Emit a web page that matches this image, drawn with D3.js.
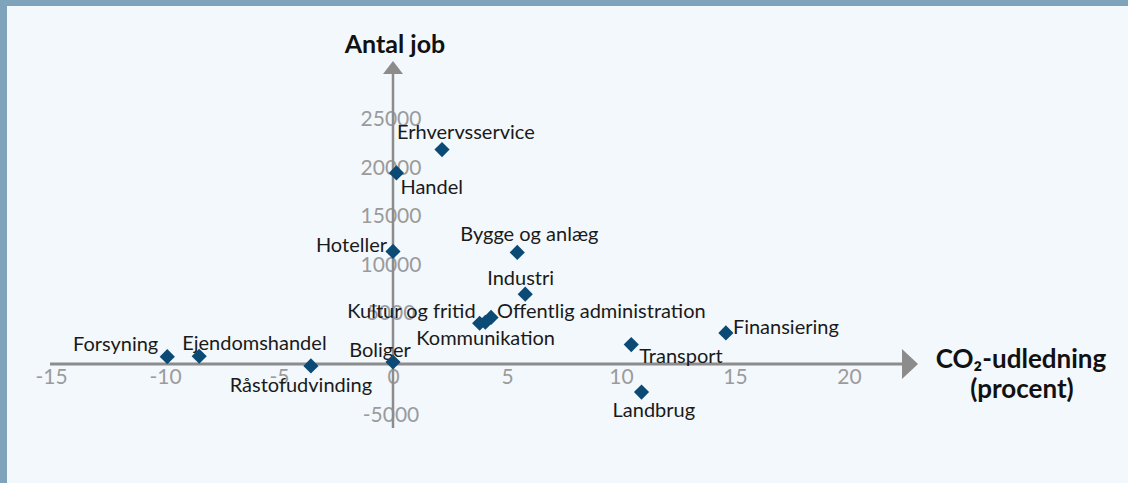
<!DOCTYPE html>
<html>
<head>
<meta charset="utf-8">
<script src="https://cdn.jsdelivr.net/npm/d3@7"></script>
<style>
  html, body { margin: 0; padding: 0; background: #f3f8fc; }
  svg { display: block; font-family: Lato, "Open Sans", sans-serif; }
</style>
</head>
<body>
<div id="chart"></div>
<script>
// Branches: change in CO2 emissions (percent) vs. change in number of jobs
var sectors = ["Forsyning", "Ejendomshandel", "Råstofudvinding", "Boliger", "Hoteller",
  "Handel", "Erhvervsservice", "Bygge og anlæg", "Industri", "Kultur og fritid",
  "Kommunikation", "Offentlig administration", "Transport", "Landbrug", "Finansiering"];
var co2 = [-9.9, -8.5, -3.6, 0, 0, 0.15, 2.15, 5.45, 5.8, 3.8, 4.05, 4.3, 10.45, 10.9, 14.6];
var jobs = [650, 700, -300, 100, 11500, 19600, 22000, 11400, 7100, 4100, 4200, 4700, 1900, -3000, 3100];

var xTicks = [-15, -10, -5, 0, 5, 10, 15, 20];
var yTicks = [-5000, 5000, 10000, 15000, 20000, 25000];

// label placement: anchor, dx, dy (relative to the point)
var labelPos = {
  "Forsyning": ["end", -9, -6],
  "Ejendomshandel": ["start", -17, -6],
  "Råstofudvinding": ["middle", -10, 26],
  "Boliger": ["middle", -13, -5],
  "Hoteller": ["end", -6, 1],
  "Handel": ["start", 4, 21],
  "Erhvervsservice": ["start", -45, -11],
  "Bygge og anlæg": ["start", -57, -11],
  "Industri": ["start", -38, -9],
  "Kultur og fritid": ["end", -4, -5],
  "Kommunikation": ["start", -69, 23],
  "Offentlig administration": ["start", 6, 1],
  "Transport": ["start", 8, 18],
  "Landbrug": ["start", -29, 25],
  "Finansiering": ["start", 7, 1]
};

var data = sectors.map(function(s, i) {
  return { name: s, co2: co2[i], jobs: jobs[i] };
});

var svgWidth = 1128;
var svgHeight = 483;

var svg = d3.select("#chart")
  .append("svg")
  .attr("width", svgWidth)
  .attr("height", svgHeight);

// frame: top bar + left border
svg.append("rect").attr("x", 0).attr("y", 0).attr("width", svgWidth).attr("height", 6).attr("fill", "#7fa3bb");
svg.append("rect").attr("x", 0).attr("y", 0).attr("width", 7).attr("height", svgHeight).attr("fill", "#7fa3bb");

// scales (origin placed where the axes cross)
var xScale = d3.scaleLinear().domain([-15, 20]).range([51, 849]);
var yScale = d3.scaleLinear().domain([0, 25000]).range([363, 120.5]);

var x0 = xScale(0), y0 = yScale(0);
var axisColor = "#8c8c8c";
var tickColor = "#9b9b9b";
var plainNum = d => String(d);

// x tick labels
var xAxis = d3.axisBottom(xScale).tickValues(xTicks).tickSize(0).tickFormat(plainNum);
var gx = svg.append("g")
  .attr("transform", `translate(0, ${y0})`)
  .call(xAxis);
gx.select(".domain").remove();
gx.selectAll("text")
  .attr("y", 0)
  .attr("dy", "21px")
  .attr("fill", tickColor)
  .style("font-size", "21px")
  .style("font-family", "Lato, sans-serif");

// y tick labels, centred on the axis line
var yAxis = d3.axisLeft(yScale).tickValues(yTicks).tickSize(0).tickFormat(plainNum);
var gy = svg.append("g")
  .attr("transform", `translate(${x0 - 2}, 0)`)
  .call(yAxis);
gy.select(".domain").remove();
gy.selectAll("text")
  .attr("x", 0)
  .attr("dy", "5px")
  .attr("text-anchor", "middle")
  .attr("fill", tickColor)
  .style("font-size", "21px")
  .style("font-family", "Lato, sans-serif");
gy.selectAll(".tick").filter(function(d) { return d < 0; }).select("text").attr("dy", "10px");

// axis lines with arrows
svg.append("line")
  .attr("x1", 50).attr("x2", 903)
  .attr("y1", y0 + 1).attr("y2", y0 + 1)
  .attr("stroke", axisColor).attr("stroke-width", 3);
svg.append("path")
  .attr("d", `M902,${y0 - 14} L918,${y0 + 1} L902,${y0 + 16} Z`)
  .attr("fill", axisColor);

svg.append("line")
  .attr("x1", x0).attr("x2", x0)
  .attr("y1", yScale(-6700)).attr("y2", 73)
  .attr("stroke", axisColor).attr("stroke-width", 2.5);
svg.append("path")
  .attr("d", `M${x0 - 10},74 L${x0},61 L${x0 + 10},74 Z`)
  .attr("fill", axisColor);

// axis titles
svg.append("text")
  .attr("x", 395).attr("y", 53)
  .attr("text-anchor", "middle")
  .attr("fill", "#111")
  .style("font-size", "25px")
  .style("font-weight", "bold")
  .text("Antal job");

var xTitle = svg.append("text")
  .attr("text-anchor", "middle")
  .attr("fill", "#111")
  .style("font-size", "26px")
  .style("font-weight", "bold");
xTitle.append("tspan").attr("x", 1021).attr("y", 368).text("CO₂-udledning");
xTitle.append("tspan").attr("x", 1022).attr("y", 398).text("(procent)");

// point labels
svg.append("g")
  .selectAll("text")
  .data(data)
  .enter()
  .append("text")
  .attr("x", d => xScale(d.co2) + labelPos[d.name][1])
  .attr("y", d => yScale(d.jobs) + labelPos[d.name][2])
  .attr("text-anchor", d => labelPos[d.name][0])
  .attr("fill", "#1a1a1a")
  .style("font-size", "20px")
  .text(d => d.name);

// diamonds
svg.append("g")
  .selectAll("path")
  .data(data)
  .enter()
  .append("path")
  .attr("d", d3.symbol().type(d3.symbolSquare).size(115))
  .attr("transform", d => `translate(${xScale(d.co2)}, ${yScale(d.jobs)}) rotate(45)`)
  .attr("fill", "#0b4a75");
</script>
</body>
</html>
